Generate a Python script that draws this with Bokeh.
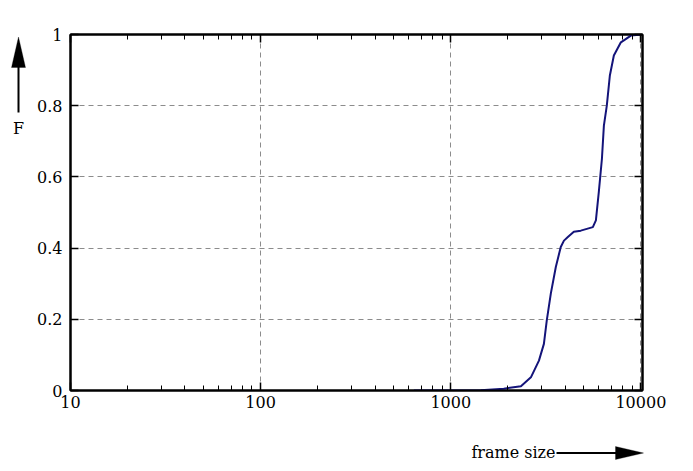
from bokeh.plotting import figure
from bokeh.models import (LogAxis, LinearAxis, FixedTicker, Label, Arrow,
                          PolyAnnotation, Range1d)
from bokeh.layouts import column, row
from bokeh.embed import file_html
from bokeh.resources import INLINE

# ---- data ----
frame_size = [640, 1000, 1440, 1900, 2340, 2640, 2910, 3090, 3200, 3360, 3570,
              3790, 3940, 4130, 4440, 4830, 5590, 5800, 6010, 6240, 6390, 6620,
              6870, 7210, 7850, 8860, 10120, 10200]
F = [0.0, 0.0, 0.001, 0.005, 0.012, 0.037, 0.084, 0.131, 0.197, 0.272, 0.347,
     0.403, 0.421, 0.431, 0.446, 0.449, 0.459, 0.478, 0.558, 0.651, 0.744, 0.8,
     0.885, 0.941, 0.978, 0.997, 1.0, 1.0]

x_ticks = [10, 100, 1000, 10000]
x_tick_labels = ["10", "100", "1000", "10000"]
y_ticks = [0, 0.2, 0.4, 0.6, 0.8, 1]
y_tick_labels = ["0", "0.2", "0.4", "0.6", "0.8", "1"]
x_title = "frame size"
y_title = "F"

FONT = "DejaVu Serif"
FSIZE = "16px"

x_minor = [k * 10 ** e for e in range(1, 4) for k in range(2, 10)]

LEFT_W = 32
MAIN_H = 430
TOTAL_W = 693
TOTAL_H = 471
FRAME_TOP = 34
FRAME_BOTTOM = 390

# ---------------- main chart ----------------
p = figure(width=TOTAL_W - LEFT_W, height=MAIN_H, x_axis_type="log",
           x_range=Range1d(10, 10200), y_range=Range1d(0, 1),
           output_backend="svg", toolbar_location=None,
           min_border_left=70 - LEFT_W, min_border_right=51,
           min_border_top=FRAME_TOP, min_border_bottom=MAIN_H - FRAME_BOTTOM)

p.background_fill_color = "white"
p.border_fill_color = "white"
p.outline_line_color = "black"
p.outline_line_width = 2

bottom_axis = p.below[0]
left_axis = p.left[0]
top_axis = LogAxis()
right_axis = LinearAxis()
p.add_layout(top_axis, "above")
p.add_layout(right_axis, "right")

for ax in [bottom_axis, top_axis]:
    ax.ticker = FixedTicker(ticks=x_ticks, minor_ticks=x_minor)
for ax in [left_axis, right_axis]:
    ax.ticker = FixedTicker(ticks=y_ticks, minor_ticks=[])

for ax in [bottom_axis, top_axis, left_axis, right_axis]:
    ax.axis_line_color = "black"
    ax.axis_line_width = 2
    ax.major_tick_in = 8
    ax.major_tick_out = 0
    ax.minor_tick_in = 5
    ax.minor_tick_out = 0
    ax.major_tick_line_color = "black"
    ax.major_tick_line_width = 1.5
    ax.minor_tick_line_color = "black"
    ax.minor_tick_line_width = 1

for ax in [top_axis, right_axis]:
    ax.major_label_text_color = None
    ax.major_label_text_font_size = "1px"
    ax.major_label_standoff = 0

bottom_axis.major_label_overrides = dict(zip(x_ticks, x_tick_labels))
left_axis.major_label_overrides = dict(zip(y_ticks, y_tick_labels))
for ax, so in [(bottom_axis, 5), (left_axis, 8)]:
    ax.major_label_text_font = FONT
    ax.major_label_text_font_size = FSIZE
    ax.major_label_text_color = "black"
    ax.major_label_standoff = so

p.xgrid.ticker = FixedTicker(ticks=x_ticks, minor_ticks=[])
p.ygrid.ticker = FixedTicker(ticks=y_ticks, minor_ticks=[])
p.xgrid.grid_line_color = "#8c8c8c"
p.xgrid.grid_line_dash = "5 4"
p.ygrid.grid_line_color = "#8c8c8c"
p.ygrid.grid_line_dash = "5 4"

p.line(frame_size, F, line_color="#14147a", line_width=2)


def strip(w, h, y_top, y_bottom):
    s = figure(width=w, height=h, x_range=Range1d(0, w),
               y_range=Range1d(y_bottom, y_top),
               output_backend="svg", toolbar_location=None,
               x_axis_location=None, y_axis_location=None,
               min_border=0, min_border_left=0, min_border_right=0,
               min_border_top=0, min_border_bottom=0)
    s.grid.visible = False
    s.outline_line_color = None
    s.background_fill_color = "white"
    s.border_fill_color = "white"
    return s


# ---------------- left strip: y title with arrow ----------------
# its frame is aligned with the main frame, so map the range to page pixels
ls = strip(LEFT_W, MAIN_H, FRAME_TOP, FRAME_BOTTOM)
ls.add_layout(Label(x=18, y=128, text=y_title,
                    text_align="center", text_baseline="middle",
                    text_font=FONT, text_font_size=FSIZE, text_color="black"))
ls.add_layout(Arrow(x_start=18, y_start=112, x_end=18, y_end=64, end=None,
                    line_color="black", line_width=2))
ls.add_layout(PolyAnnotation(xs=[11, 18, 25], ys=[67, 36.5, 67],
                             fill_color="black", fill_alpha=1,
                             line_color="black", line_width=1))

# ---------------- bottom strip: x title with arrow ----------------
bs = strip(TOTAL_W, TOTAL_H - MAIN_H, MAIN_H, TOTAL_H)
bs.add_layout(Label(x=555, y=452, text=x_title,
                    text_align="right", text_baseline="middle",
                    text_font=FONT, text_font_size=FSIZE, text_color="black"))
bs.add_layout(Arrow(x_start=556, y_start=452.5, x_end=618, y_end=452.5, end=None,
                    line_color="black", line_width=2))
bs.add_layout(PolyAnnotation(xs=[615, 643, 615], ys=[446, 452.5, 459],
                             fill_color="black", fill_alpha=1,
                             line_color="black", line_width=1))

layout = column(row(ls, p), bs)

open("out.html", "w").write(file_html(layout, INLINE))
